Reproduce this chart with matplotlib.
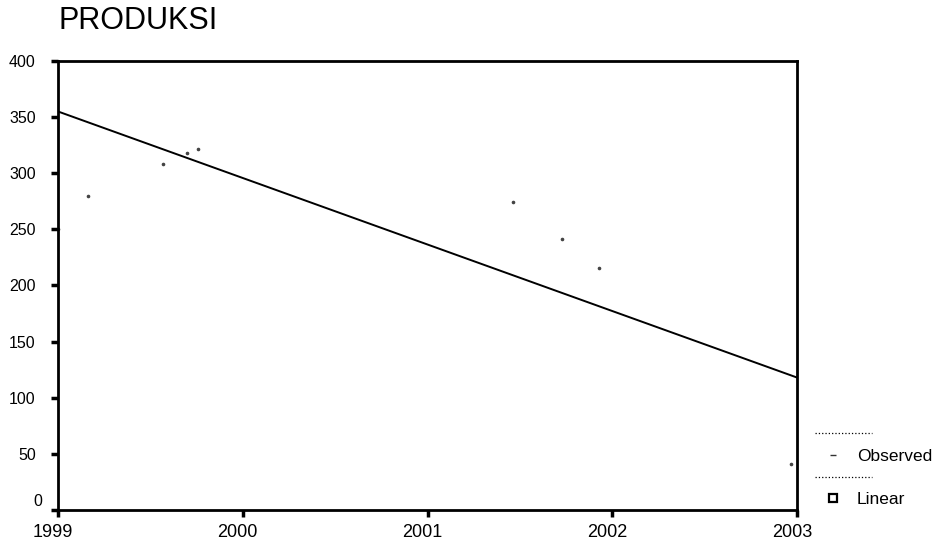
import matplotlib.pyplot as plt
from matplotlib.lines import Line2D
from matplotlib.transforms import ScaledTranslation

plt.rcParams["font.family"] = ["Liberation Sans", "DejaVu Sans"]

# observed points (faint in the scan) and linear fit end points
obs_year = [1999.0, 1999.16, 1999.57, 1999.70, 1999.76, 2001.46, 2001.73, 2001.93, 2002.97]
obs_val = [250, 280, 308, 318, 322, 274, 241, 216, 41]
fit_year = [1999, 2003]
fit_val = [355, 118]

x_ticks = [1999, 2000, 2001, 2002, 2003]
y_ticks = [0, 50, 100, 150, 200, 250, 300, 350, 400]

fig = plt.figure(figsize=(9.42, 5.41), dpi=100)
ax = fig.add_axes([0.0616, 0.0573, 0.7845, 0.830])

ax.plot(obs_year, obs_val, linestyle="none", marker="o", markersize=1.6,
        color="#444444", label="Observed")
ax.plot(fit_year, fit_val, color="black", linewidth=1.4, label="Linear")

ax.set_xlim(1999, 2003)
ax.set_ylim(0, 400)
ax.set_xticks(x_ticks)
ax.set_yticks(y_ticks)
ax.tick_params(axis="y", direction="out", length=5, width=2.5, labelsize=11.5, pad=11)
ax.tick_params(axis="x", direction="out", length=5, width=2.5, labelsize=13, pad=5)
for s in ax.spines.values():
    s.set_linewidth(2)

# x labels sit a little left of their ticks, the 0 label is lifted
fig.canvas.draw()
shift_x = ScaledTranslation(-5 / 100, 0, fig.dpi_scale_trans)
for lab in ax.get_xticklabels():
    lab.set_transform(lab.get_transform() + shift_x)
zero_lab = ax.get_yticklabels()[0]
zero_lab.set_transform(zero_lab.get_transform() + ScaledTranslation(0.06, 0.10, fig.dpi_scale_trans))

fig.text(0.0616, 0.961, "PRODUKSI", fontsize=22, ha="left", va="center")

handles = [
    Line2D([], [], linestyle="none", marker=r"$-$", markersize=4, color="#333333"),
    Line2D([], [], linestyle="none", marker="s", markersize=6, markerfacecolor="white",
           markeredgecolor="black", markeredgewidth=1.6),
]
fig.legend(handles, ["Observed", "Linear"], loc="center left",
           bbox_to_anchor=(0.8747, 0.1165), frameon=False, fontsize=12.5,
           handlelength=1.0, handletextpad=0.9, labelspacing=1.65,
           borderpad=0, borderaxespad=0)

# dotted rules above each legend entry as in the scan
for yy in [0.1996, 0.1183]:
    fig.add_artist(Line2D([0.865, 0.926], [yy, yy], transform=fig.transFigure,
                          color="black", linestyle=":", linewidth=0.9))

fig.savefig("out.png", dpi=100)
